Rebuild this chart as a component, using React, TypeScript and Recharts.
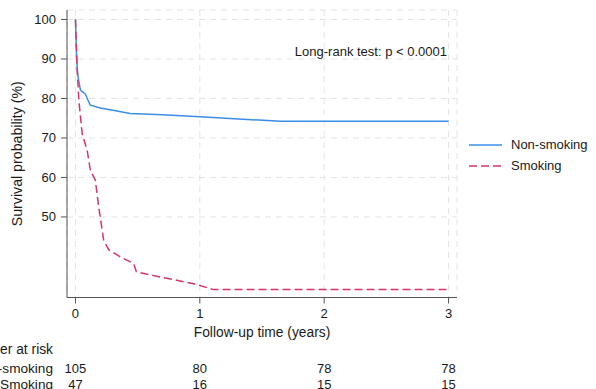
import React from 'react';
import { LineChart, Line, XAxis, YAxis, CartesianGrid, Legend, Label } from 'recharts';

const nonSmokingTime = [0, 0.01, 0.018, 0.04, 0.08, 0.1, 0.12, 0.2, 0.3, 0.44, 0.7, 1.0, 1.65, 3.0];
const nonSmokingSurv = [100, 90, 86, 82.1, 81.1, 79.6, 78.3, 77.6, 77.0, 76.2, 75.9, 75.4, 74.2, 74.2];

const smokingTime = [0, 0.013, 0.027, 0.054, 0.094, 0.12, 0.16, 0.187, 0.227, 0.267, 0.36, 0.468, 0.49, 0.68, 0.95, 1.11, 3.0];
const smokingSurv = [100, 88, 79.6, 71.1, 66.9, 61.8, 59.3, 52.5, 44.1, 41.7, 39.9, 38.2, 36.1, 34.8, 33.1, 31.6, 31.6];

const xTicks = [0, 1, 2, 3];
const yTicks = [50, 60, 70, 80, 90, 100];
const riskTimes = [0, 1, 2, 3];
const riskNonSmoking = [105, 80, 78, 78];
const riskSmoking = [47, 16, 15, 15];

const seriesNames = ['Non-smoking', 'Smoking'];
const BLUE = '#3a8ee6';
const PINK = '#d6336f';
const FONT = '"Liberation Sans", Arial, sans-serif';
const TXT = '#1a1a1a';

const nonSmokingData = nonSmokingTime.map((t, i) => ({ t, s: nonSmokingSurv[i] }));
const smokingData = smokingTime.map((t, i) => ({ t, s: smokingSurv[i] }));

const X_DOMAIN: [number, number] = [-0.068, 3.068];

const T = (p: any) => (
  <text textAnchor="middle" dominantBaseline="central" fontSize={13} fill={TXT} fontFamily={FONT} {...p} />
);

const XTick = (props: any) => {
  const v = props.payload.value;
  const idx = riskTimes.indexOf(v);
  return (
    <g>
      <T x={props.x} y={props.y + 8}>{v}</T>
      {idx >= 0 && <T x={props.x} y={props.y + 62.5}>{riskNonSmoking[idx]}</T>}
      {idx >= 0 && <T x={props.x} y={props.y + 79}>{riskSmoking[idx]}</T>}
      {idx === 0 && <T x={53} y={props.y + 62.5} textAnchor="end" fontSize={13.6}>{seriesNames[0]}</T>}
      {idx === 0 && <T x={53} y={props.y + 79} textAnchor="end" fontSize={13.6}>{seriesNames[1]}</T>}
    </g>
  );
};

const YTick = (props: any) => (
  <T x={props.x - 3} y={props.y} textAnchor="end">{props.payload.value}</T>
);

const LegendContent = () => (
  <div style={{ fontFamily: FONT, fontSize: 13, color: TXT }}>
    {seriesNames.map((n, i) => (
      <div key={n} style={{ display: 'flex', alignItems: 'center', height: 21 }}>
        <svg width={42} height={10}>
          <line x1={0} y1={5} x2={33} y2={5} stroke={i === 0 ? BLUE : PINK} strokeWidth={1.5} strokeDasharray={i === 0 ? undefined : '8 4'} />
        </svg>
        <span>{n}</span>
      </div>
    ))}
  </div>
);

export default function App() {
  return (
    <div style={{ position: 'absolute', left: 0, top: 0, width: 596, height: 389, background: '#fff' }}>
      <LineChart width={596} height={389} margin={{ top: 10, right: 139, left: 0, bottom: 1 }}>
        <CartesianGrid stroke="#e4e4e4" strokeDasharray="6 5" />
        <XAxis
          dataKey="t"
          type="number"
          domain={X_DOMAIN}
          ticks={xTicks}
          allowDataOverflow
          height={90.5}
          stroke="#555"
          tickSize={6}
          tickMargin={2}
          tick={<XTick />}
        >
          <Label
            content={(p: any) => (
              <g>
                <text x={p.viewBox.x + p.viewBox.width / 2} y={p.viewBox.y + 34.5} textAnchor="middle" dominantBaseline="central" fontSize={13.8} fill={TXT} fontFamily={FONT}>
                  Follow-up time (years)
                </text>
                <text x={53} y={p.viewBox.y + 51.5} textAnchor="end" dominantBaseline="central" fontSize={13.8} fill={TXT} fontFamily={FONT}>
                  Number at risk
                </text>
              </g>
            )}
          />
        </XAxis>
        <YAxis
          type="number"
          domain={[29.6, 102.4]}
          ticks={yTicks}
          allowDataOverflow
          width={67}
          stroke="#555"
          tickSize={6}
          tickMargin={2}
          tick={<YTick />}
        >
          <Label
            content={(p: any) => {
              const cy = p.viewBox.y + p.viewBox.height / 2;
              return (
                <text x={16.5} y={cy} transform={`rotate(-90 16.5 ${cy})`} textAnchor="middle" dominantBaseline="central" fontSize={14.2} fill={TXT} fontFamily={FONT}>
                  Survival probability (%)
                </text>
              );
            }}
          />
        </YAxis>
        <Legend layout="vertical" align="center" verticalAlign="middle" content={<LegendContent />} wrapperStyle={{ position: 'absolute', left: 469, top: 134, width: 127 }} />
        <Line data={nonSmokingData} dataKey="s" name={seriesNames[0]} stroke={BLUE} strokeWidth={1.5} dot={false} isAnimationActive={false} type="linear" />
        <Line data={smokingData} dataKey="s" name={seriesNames[1]} stroke={PINK} strokeWidth={1.5} strokeDasharray="8 4" dot={false} isAnimationActive={false} type="linear" />
      </LineChart>
      <div style={{ position: 'absolute', right: 596 - 447, top: 44, fontFamily: FONT, fontSize: 13, color: TXT, lineHeight: '16px', whiteSpace: 'nowrap' }}>
        Long-rank test: p &lt; 0.0001
      </div>
    </div>
  );
}
